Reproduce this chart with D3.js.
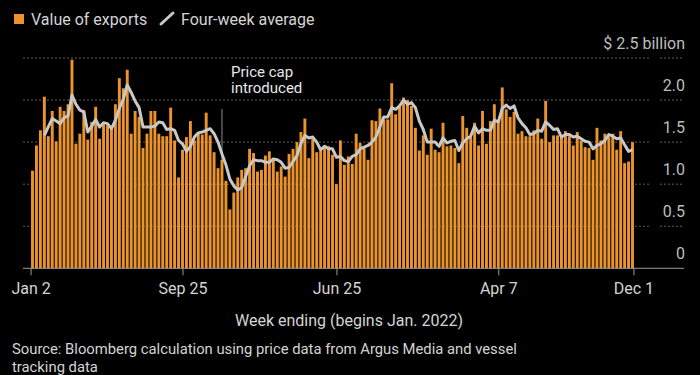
<!DOCTYPE html>
<html>
<head>
<meta charset="utf-8">
<script src="https://cdn.jsdelivr.net/npm/d3@7"></script>
<style>
  html, body { margin: 0; padding: 0; background: #000; }
  svg { display: block; font-family: Roboto, "Noto Sans", sans-serif; }
</style>
</head>
<body>
<script>
const w = 700;
const h = 375;

// weekly exports, $ billion, week ending Sundays from Jan 2 2022
const firstWeek = Date.UTC(2022, 0, 2);
const lastWeek = Date.UTC(2024, 11, 1);
const exportsValue = [
  1.16, 1.46, 1.64, 2.04, 1.57, 1.87, 1.51, 1.92, 1.87, 1.95,
  2.48, 1.48, 1.60, 1.88, 1.53, 1.74, 1.92, 1.54, 1.71, 1.70,
  1.68, 1.95, 2.26, 2.14, 2.36, 1.60, 1.87, 1.80, 1.43, 1.60,
  1.87, 1.87, 1.60, 1.57, 1.57, 1.91, 1.52, 1.08, 1.41, 1.56,
  1.75, 1.52, 1.60, 1.59, 1.85, 1.58, 1.38, 1.19, 1.29, 1.04,
  0.70, 0.90, 1.08, 1.17, 1.19, 1.42, 1.37, 1.15, 1.17, 1.34,
  1.39, 1.29, 1.15, 1.21, 1.09, 1.36, 1.42, 1.50, 1.62, 1.78,
  1.31, 1.54, 1.38, 1.40, 1.46, 1.45, 1.35, 1.00, 1.52, 1.23,
  1.33, 1.24, 1.60, 1.49, 1.44, 1.29, 1.76, 1.75, 1.90, 1.77,
  1.77, 2.20, 1.83, 1.92, 2.03, 2.00, 1.93, 1.67, 1.40, 1.58,
  1.35, 1.66, 1.41, 1.38, 1.73, 1.45, 1.46, 1.43, 1.25, 1.81,
  1.67, 1.56, 1.73, 1.46, 1.87, 1.48, 1.75, 1.95, 1.76, 2.15,
  1.89, 1.80, 1.86, 1.60, 1.63, 1.57, 1.57, 1.64, 1.78, 1.54,
  1.99, 1.50, 1.58, 1.58, 1.56, 1.63, 1.57, 1.46, 1.62, 1.52,
  1.44, 1.43, 1.29, 1.67, 1.52, 1.60, 1.56, 1.60, 1.41, 1.63,
  1.25, 1.27, 1.50
];

// four-week average, starts at the fourth week
const fourWeekAvg = [
  1.58, 1.68, 1.78, 1.75, 1.72, 1.79, 1.81, 2.06, 1.95, 1.88,
  1.86, 1.62, 1.69, 1.77, 1.68, 1.73, 1.72, 1.66, 1.76, 1.90,
  2.01, 2.18, 2.09, 1.99, 1.91, 1.68, 1.68, 1.68, 1.69, 1.74,
  1.73, 1.65, 1.66, 1.64, 1.52, 1.48, 1.39, 1.45, 1.56, 1.61,
  1.62, 1.64, 1.66, 1.60, 1.50, 1.36, 1.23, 1.06, 0.98, 0.93,
  0.96, 1.09, 1.22, 1.29, 1.28, 1.28, 1.26, 1.26, 1.30, 1.29,
  1.26, 1.19, 1.20, 1.27, 1.34, 1.48, 1.58, 1.55, 1.56, 1.50,
  1.41, 1.45, 1.42, 1.42, 1.32, 1.33, 1.28, 1.27, 1.33, 1.35,
  1.42, 1.44, 1.46, 1.50, 1.56, 1.68, 1.80, 1.80, 1.91, 1.89,
  1.93, 2.00, 1.95, 1.97, 1.91, 1.75, 1.65, 1.50, 1.50, 1.50,
  1.45, 1.55, 1.49, 1.51, 1.52, 1.40, 1.49, 1.54, 1.57, 1.69,
  1.61, 1.66, 1.64, 1.64, 1.76, 1.74, 1.90, 1.94, 1.90, 1.93,
  1.79, 1.72, 1.67, 1.59, 1.60, 1.64, 1.63, 1.74, 1.70, 1.65,
  1.66, 1.56, 1.59, 1.59, 1.56, 1.57, 1.54, 1.51, 1.50, 1.42,
  1.46, 1.48, 1.52, 1.59, 1.57, 1.54, 1.55, 1.47, 1.39, 1.41
];
const avgOffset = 3;

const tickDates = ['2022-01-02', '2022-09-25', '2023-06-25', '2024-04-07', '2024-12-01'];
const tickLabels = ['Jan 2', 'Sep 25', 'Jun 25', 'Apr 7', 'Dec 1'];
const yTicks = [0, 0.5, 1.0, 1.5, 2.0, 2.5];
const yTickLabels = ['0', '0.5', '1.0', '1.5', '2.0', '$ 2.5 billion'];
const priceCapDate = '2022-12-04';

const weeks = d3.utcWeek.range(new Date(firstWeek), new Date(lastWeek + 1));
const parse = d3.utcParse('%Y-%m-%d');

const x = d3.scaleUtc()
  .domain([new Date(firstWeek), new Date(lastWeek)])
  .range([32.5, 632.5]);

const y = d3.scaleLinear()
  .domain([0, 2.5])
  .range([268.3, 58]);

const barW = 2.9;
const textCol = '#d4d4d4';

const svg = d3.select('body').append('svg')
  .attr('width', w)
  .attr('height', h)
  .attr('viewBox', [0, 0, w, h]);

svg.append('rect')
  .attr('width', w)
  .attr('height', h)
  .attr('fill', '#000');

// legend
svg.append('rect')
  .attr('x', 14).attr('y', 14)
  .attr('width', 10).attr('height', 10)
  .attr('fill', '#ec942c');
svg.append('text')
  .attr('x', 31).attr('y', 24.5)
  .attr('fill', textCol)
  .style('font-size', '16px')
  .text('Value of exports');
svg.append('line')
  .attr('x1', 161).attr('y1', 24)
  .attr('x2', 173).attr('y2', 13)
  .attr('stroke', '#c8c8c8')
  .attr('stroke-width', 3)
  .attr('stroke-linecap', 'round');
svg.append('text')
  .attr('x', 181).attr('y', 24.5)
  .attr('fill', textCol)
  .style('font-size', '16px')
  .text('Four-week average');

// gridlines, broken before the labels
const grid = svg.append('g');
yTicks.filter(v => v > 0).forEach(v => {
  [[23, 649], [660, 684]].forEach(seg => {
    grid.append('line')
      .attr('x1', seg[0]).attr('x2', seg[1])
      .attr('y1', y(v)).attr('y2', y(v))
      .attr('stroke', '#5c5c5c')
      .attr('stroke-width', 1)
      .attr('stroke-dasharray', '2,2');
  });
});

svg.selectAll('text.y-label')
  .data(yTicks)
  .enter().append('text')
    .attr('class', 'y-label')
    .attr('x', 685)
    .attr('y', d => y(d) - 9.5)
    .attr('text-anchor', 'end')
    .attr('fill', '#bdbdbd')
    .style('font-size', '16px')
    .text((d, i) => yTickLabels[i]);

// price cap marker
const capX = x(parse(priceCapDate));
svg.append('line')
  .attr('x1', capX).attr('x2', capX)
  .attr('y1', 109).attr('y2', y(0))
  .attr('stroke', '#8a8a8a')
  .attr('stroke-width', 1);
svg.append('text')
  .attr('x', 231).attr('y', 76.5)
  .attr('fill', '#e8e8e8')
  .style('font-size', '15px')
  .text('Price cap');
svg.append('text')
  .attr('x', 231).attr('y', 93)
  .attr('fill', '#e8e8e8')
  .style('font-size', '15px')
  .text('introduced');

// bars
svg.selectAll('rect.bar')
  .data(exportsValue)
  .enter().append('rect')
    .attr('class', 'bar')
    .attr('x', (d, i) => x(weeks[i]) - barW / 2)
    .attr('y', d => y(d))
    .attr('width', barW)
    .attr('height', d => y(0) - y(d))
    .attr('fill', '#ec942c');

// four-week average line
const line = d3.line()
  .x((d, i) => x(weeks[i + avgOffset]))
  .y(d => y(d));

svg.append('path')
  .datum(fourWeekAvg)
  .attr('d', line)
  .attr('fill', 'none')
  .attr('stroke', '#c8c8c8')
  .attr('stroke-width', 3)
  .attr('stroke-linejoin', 'round');

// baseline and x axis
svg.append('line')
  .attr('x1', 23).attr('x2', 684)
  .attr('y1', y(0)).attr('y2', y(0))
  .attr('stroke', '#9a9a9a')
  .attr('stroke-width', 1);

const xAxis = d3.axisBottom(x)
  .tickValues(tickDates.map(parse))
  .tickSize(7)
  .tickFormat((d, i) => tickLabels[i]);

const axisG = svg.append('g')
  .attr('transform', `translate(0,${y(0)})`)
  .call(xAxis);
axisG.select('.domain').remove();
// end ticks sit on the outer edge of the first and last bar
const ticks = axisG.selectAll('.tick');
const n = tickDates.length;
ticks.filter((d, i) => i === 0).attr('transform', `translate(${x(parse(tickDates[0])) - barW / 2},0)`);
ticks.filter((d, i) => i === n - 1).attr('transform', `translate(${x(parse(tickDates[n - 1])) + barW / 2},0)`);
axisG.selectAll('.tick line').attr('stroke', '#9a9a9a');
axisG.selectAll('.tick text')
  .attr('y', 14.5)
  .attr('fill', textCol)
  .style('font-size', '16px')
  .style('font-family', 'Roboto, "Noto Sans", sans-serif');

svg.append('text')
  .attr('x', 349).attr('y', 326)
  .attr('text-anchor', 'middle')
  .attr('fill', textCol)
  .style('font-size', '16px')
  .text('Week ending (begins Jan. 2022)');

svg.append('text')
  .attr('x', 12).attr('y', 354)
  .attr('fill', textCol)
  .style('font-size', '14.8px')
  .text('Source: Bloomberg calculation using price data from Argus Media and vessel');
svg.append('text')
  .attr('x', 12).attr('y', 372)
  .attr('fill', textCol)
  .style('font-size', '14.8px')
  .text('tracking data');
</script>
</body>
</html>
